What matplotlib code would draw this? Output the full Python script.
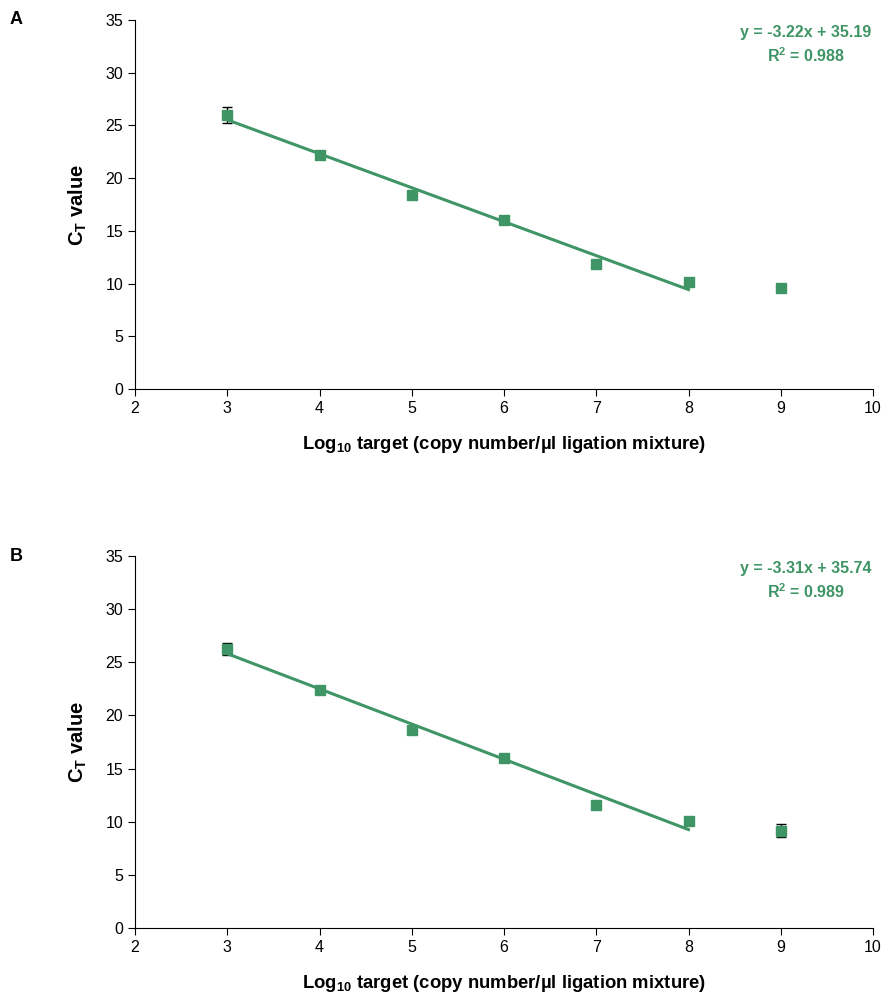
import numpy as np
import matplotlib.pyplot as plt

plt.rcParams['font.family'] = ['Liberation Sans', 'DejaVu Sans']
plt.rcParams['mathtext.default'] = 'regular'

green = '#3f9566'

# panel A
x_a = [3, 4, 5, 6, 7, 8, 9]
ct_a = [26.0, 22.2, 18.4, 16.0, 11.9, 10.15, 9.6]
err_a = [0.75, 0.15, 0.1, 0.1, 0.15, 0.15, 0.1]
slope_a, icpt_a, r2_a = -3.22, 35.19, 0.988

# panel B
x_b = [3, 4, 5, 6, 7, 8, 9]
ct_b = [26.25, 22.4, 18.6, 16.0, 11.6, 10.07, 9.15]
err_b = [0.6, 0.1, 0.1, 0.1, 0.1, 0.15, 0.6]
slope_b, icpt_b, r2_b = -3.31, 35.74, 0.989

fit_x = [3, 8]

fig = plt.figure(figsize=(8.89, 9.99), dpi=100)
ax_a = fig.add_axes([0.1519, 0.6106, 0.8301, 0.3694])
ax_b = fig.add_axes([0.1519, 0.0711, 0.8301, 0.3723])


def draw(ax, x, ct, err, slope, icpt, r2, letter):
    ax.errorbar(x, ct, yerr=err, fmt='none', ecolor='black', elinewidth=1,
                capsize=3.6, capthick=1, zorder=2)
    fx = np.array(fit_x)
    ax.plot(fx, slope * fx + icpt, color=green, lw=2.2, zorder=3)
    ax.plot(x, ct, 's', color=green, ms=7.5, zorder=4)
    ax.set_xlim(2, 10)
    ax.set_ylim(0, 35)
    ax.set_xticks(range(2, 11))
    ax.set_yticks(range(0, 36, 5))
    for s in ['top', 'right']:
        ax.spines[s].set_visible(False)
    ax.tick_params(labelsize=11.5, length=5, color='black', direction='out')
    ax.set_xlabel('Log$_{10}$ target (copy number/µl ligation mixture)',
                  fontsize=13.3, fontweight='bold', labelpad=13)
    ax.set_ylabel('C$_{T}$ value', fontsize=14.5, fontweight='bold', labelpad=12)
    ax.text(0.909, 0.967, 'y = %.2fx + %.2f' % (slope, icpt), transform=ax.transAxes,
            ha='center', va='center', color=green, fontsize=11.5, fontweight='bold')
    ax.text(0.909, 0.903, 'R$^2$ = %.3f' % r2, transform=ax.transAxes,
            ha='center', va='center', color=green, fontsize=11.5, fontweight='bold')
    ax.text(-0.17, 1.0, letter, transform=ax.transAxes, ha='left', va='center',
            fontsize=13, fontweight='bold')


draw(ax_a, x_a, ct_a, err_a, slope_a, icpt_a, r2_a, 'A')
draw(ax_b, x_b, ct_b, err_b, slope_b, icpt_b, r2_b, 'B')

plt.savefig('out.png', dpi=100)
